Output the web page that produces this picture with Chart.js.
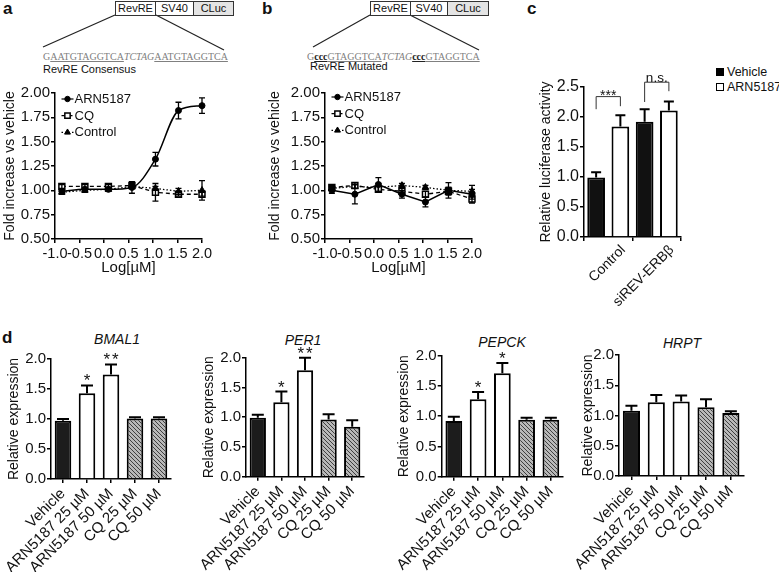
<!DOCTYPE html>
<html><head><meta charset="utf-8">
<script src="https://cdn.jsdelivr.net/npm/chart.js@4.4.0/dist/chart.umd.min.js"></script>
<style>
html,body{margin:0;padding:0;background:#fff;}
body{width:779px;height:572px;position:relative;overflow:hidden;font-family:'Liberation Sans',Arial,sans-serif;color:#111;}
canvas{position:absolute;}
.t{position:absolute;white-space:nowrap;line-height:1;}
.lt{font-weight:bold;font-size:17px;}
.cell{position:absolute;top:1px;height:15px;border:1px solid #333;box-sizing:border-box;font-size:11px;line-height:13px;text-align:center;}
.seq{position:absolute;white-space:nowrap;font-family:'Liberation Serif','DejaVu Serif',serif;font-size:10px;line-height:1;color:#808080;}
.seq u{text-decoration-thickness:1px;}
.seq b{color:#222;}
.gt{position:absolute;font-style:italic;font-size:14px;line-height:1;transform:translateX(-50%);white-space:nowrap;}
.sq{position:absolute;width:8px;height:8px;box-sizing:border-box;border:1.3px solid #000;}
</style></head>
<body>
<svg width="779" height="572" style="position:absolute;left:0;top:0">
  <g stroke="#222" stroke-width="1.2">
    <line x1="115" y1="15" x2="43" y2="47"/><line x1="156" y1="15" x2="224" y2="50"/>
    <line x1="370" y1="15" x2="313" y2="47"/><line x1="410" y1="15" x2="479" y2="50"/>
  </g>
</svg>
<div class="t lt" style="left:3px;top:0px">a</div>
<div class="t lt" style="left:262px;top:0px">b</div>
<div class="t lt" style="left:527px;top:0px">c</div>
<div class="t lt" style="left:2px;top:329px">d</div>

<div class="cell" style="left:115px;width:41px">RevRE</div>
<div class="cell" style="left:155px;width:39px">SV40</div>
<div class="cell" style="left:193px;width:41px;background:#e4e4e4">CLuc</div>
<div class="seq" style="left:43px;top:52px">G<u>AATGTAGGTCA</u><i>TCTAG</i><u>AATGTAGGTCA</u></div>
<div class="t" style="left:43px;top:64px;font-size:11px">RevRE Consensus</div>

<div class="cell" style="left:370px;width:41px">RevRE</div>
<div class="cell" style="left:410px;width:38px">SV40</div>
<div class="cell" style="left:447px;width:42px;background:#e4e4e4">CLuc</div>
<div class="seq" style="left:307px;top:52px">G<b><u>ccc</u></b><u>GTAGGTCA</u><i>TCTAG</i><b><u>ccc</u></b><u>GTAGGTCA</u></div>
<div class="t" style="left:310px;top:61px;font-size:11px">RevRE Mutated</div>

<div class="sq" style="left:716px;top:68px;background:#000"></div>
<div class="t" style="left:727px;top:66px;font-size:12.5px">Vehicle</div>
<div class="sq" style="left:716px;top:83px;background:#fff"></div>
<div class="t" style="left:727px;top:81px;font-size:12.5px">ARN5187</div>

<div class="gt" style="left:117px;top:332px">BMAL1</div>
<div class="gt" style="left:303px;top:333px">PER1</div>
<div class="gt" style="left:502px;top:335px">PEPCK</div>
<div class="gt" style="left:682px;top:336px">HRPT</div>

<script>
// ================= DATA =================
// Panels a & b : dose-response (log µM)
const logConc   = [-0.86, -0.39, 0.09, 0.57, 1.05, 1.52, 2.0];
const doseTicks = [-1.0, -0.5, 0.0, 0.5, 1.0, 1.5, 2.0];
const foldTicks = [0.50, 0.75, 1.00, 1.25, 1.50, 1.75, 2.00];
const seriesNames = ['ARN5187', 'CQ', 'Control'];

const aARN     = [0.99, 1.01, 1.01, 1.03, 1.32, 1.82, 1.87];
const aARNerr  = [0.02, 0.02, 0.02, 0.06, 0.07, 0.085, 0.08];
const aCQ      = [1.04, 1.04, 1.04, 1.05, 0.98, 0.96, 0.96];
const aCQerr   = [0.02, 0.02, 0.02, 0.02, 0.09, 0.02, 0.02];
const aCtrl    = [0.98, 1.00, 1.01, 1.04, 1.02, 0.99, 1.00];
const aCtrlErr = [0.02, 0.02, 0.02, 0.02, 0.02, 0.03, 0.10];

const bARN     = [1.00, 0.96, 1.06, 0.96, 0.88, 1.00, 0.96];
const bARNerr  = [0.03, 0.10, 0.07, 0.04, 0.05, 0.08, 0.05];
const bCQ      = [1.03, 1.05, 1.01, 0.99, 0.96, 0.99, 0.91];
const bCQerr   = [0.02, 0.03, 0.03, 0.03, 0.03, 0.04, 0.04];
const bCtrl    = [1.02, 1.04, 1.03, 1.05, 1.03, 1.00, 0.99];
const bCtrlErr = [0.02, 0.02, 0.04, 0.02, 0.02, 0.03, 0.06];

// Panel c : luciferase
const cGroups     = ['Control', 'siREV-ERBβ'];
const cNames      = ['Vehicle', 'ARN5187'];
const cVehicle    = [0.99, 1.92];
const cVehicleErr = [0.09, 0.21];
const cARN        = [1.84, 2.11];
const cARNerr     = [0.19, 0.15];
const cTicks      = [0.0, 0.5, 1.0, 1.5, 2.0, 2.5];
const cSig        = ['***', 'n.s.'];
const cSigLevel   = [2.34, 2.58];   // bracket bar level
const cSigLeft    = [2.13, 2.25];   // left leg end
const cSigRight   = [2.18, 2.43];   // right leg end

// Panel d : relative expression
const dCats     = ['Vehicle', 'ARN5187 25 µM', 'ARN5187 50 µM', 'CQ 25 µM', 'CQ 50 µM'];
const exprTicks = [0.0, 0.5, 1.0, 1.5, 2.0];
const bmal1      = [0.97, 1.43, 1.74, 1.01, 1.01];
const bmal1Err   = [0.03, 0.13, 0.17, 0.02, 0.02];
const bmal1Stars = ['', '*', '**', '', ''];
const per1       = [0.99, 1.25, 1.79, 0.96, 0.84];
const per1Err    = [0.05, 0.18, 0.21, 0.09, 0.11];
const per1Stars  = ['', '*', '**', '', ''];
const pepck      = [0.92, 1.28, 1.71, 0.94, 0.94];
const pepckErr   = [0.07, 0.12, 0.17, 0.035, 0.035];
const pepckStars = ['', '*', '*', '', ''];
const hrpt       = [1.08, 1.22, 1.23, 1.135, 1.04];
const hrptErr    = [0.08, 0.12, 0.10, 0.135, 0.03];
const hrptStars  = ['', '', '', '', ''];

// ================= RENDERING =================
const FONT = "'Liberation Sans', Arial, sans-serif";
Chart.defaults.font.family = FONT;
Chart.defaults.color = '#111';
Chart.defaults.animation = false;

function makeCanvas(L, T, W, H) {
  const c = document.createElement('canvas');
  c.width = W; c.height = H;
  c.style.left = L + 'px'; c.style.top = T + 'px';
  document.body.appendChild(c);
  return c;
}
// canvas box [L,T,W,H] and plot area [l,t,r,b] in page pixels
function frame(cv, area) {
  return {
    canvas: makeCanvas(cv[0], cv[1], cv[2], cv[3]),
    padding: {top: area[1] - cv[1], right: cv[0] + cv[2] - area[2], bottom: 0, left: 0},
    yw: area[0] - cv[0],
    xh: cv[1] + cv[3] - area[3]
  };
}
function axisLook() {
  return {
    grid: {display: true, drawOnChartArea: false, drawTicks: true, tickLength: 4, color: '#000', lineWidth: 1.5},
    border: {display: true, color: '#000', width: 1.5}
  };
}
function hatchPattern() {
  const c = document.createElement('canvas'); c.width = 4; c.height = 4;
  const g = c.getContext('2d');
  g.fillStyle = '#b8b8b8'; g.fillRect(0, 0, 4, 4);
  g.strokeStyle = '#404040'; g.lineWidth = 1;
  g.beginPath();
  g.moveTo(0, 0); g.lineTo(4, 4);
  g.moveTo(-1, 3); g.lineTo(1, 5);
  g.moveTo(3, -1); g.lineTo(5, 1);
  g.stroke();
  return g.createPattern(c, 'repeat');
}

const errorBars = {
  id: 'errorBars',
  afterDatasetsDraw(chart, args, opts) {
    const ctx = chart.ctx, ys = chart.scales.y;
    chart.data.datasets.forEach((ds, di) => {
      if (!ds.errors) return;
      const meta = chart.getDatasetMeta(di);
      ctx.save();
      ctx.strokeStyle = '#000'; ctx.lineWidth = opts.lineWidth; ctx.setLineDash([]);
      meta.data.forEach((el, i) => {
        const raw = ds.data[i];
        const v = (typeof raw === 'object') ? raw.y : raw;
        const e = ds.errors[i];
        const x = el.x, half = opts.cap / 2;
        const yTop = ys.getPixelForValue(v + e);
        const yBot = ys.getPixelForValue(opts.upOnly ? v : v - e);
        ctx.beginPath();
        ctx.moveTo(x, yBot); ctx.lineTo(x, yTop);
        ctx.moveTo(x - half, yTop); ctx.lineTo(x + half, yTop);
        if (!opts.upOnly) { ctx.moveTo(x - half, yBot); ctx.lineTo(x + half, yBot); }
        ctx.stroke();
        if (ds.stars && ds.stars[i]) {
          const n = ds.stars[i].length;
          ctx.fillStyle = '#111'; ctx.font = opts.starFont;
          ctx.textAlign = 'center'; ctx.textBaseline = 'alphabetic';
          for (let k = 0; k < n; k++) ctx.fillText('*', x + (k - (n - 1) / 2) * opts.starGap, yTop + opts.starShift);
        }
      });
      ctx.restore();
    });
  }
};

const lineLegend = {
  id: 'lineLegend',
  afterDraw(chart, args, opts) {
    if (!opts.show) return;
    const ctx = chart.ctx, ca = chart.chartArea;
    chart.data.datasets.forEach((ds, i) => {
      const y = ca.top + opts.top + i * opts.gap;
      const x0 = ca.left + opts.left;
      ctx.save();
      ctx.strokeStyle = '#000'; ctx.lineWidth = 1.2;
      ctx.setLineDash(ds.borderDash || []);
      ctx.beginPath(); ctx.moveTo(x0, y); ctx.lineTo(x0 + 12, y); ctx.stroke();
      ctx.setLineDash([]);
      ctx.fillStyle = ds.pointBackgroundColor; ctx.lineWidth = ds.pointBorderWidth;
      Chart.helpers.drawPoint(ctx, {pointStyle: ds.pointStyle, radius: ds.pointRadius * 0.9, borderWidth: ds.pointBorderWidth, rotation: 0}, x0 + 6, y);
      ctx.fillStyle = '#111'; ctx.font = opts.font;
      ctx.textAlign = 'left'; ctx.textBaseline = 'middle';
      ctx.fillText(ds.label, x0 + 13, y + 0.5);
      ctx.restore();
    });
  }
};

const brackets = {
  id: 'brackets',
  afterDatasetsDraw(chart, args, opts) {
    if (!opts.labels) return;
    const ctx = chart.ctx, ys = chart.scales.y;
    const m0 = chart.getDatasetMeta(0), m1 = chart.getDatasetMeta(1);
    ctx.save();
    ctx.strokeStyle = '#333'; ctx.lineWidth = 1;
    opts.labels.forEach((txt, g) => {
      const x1 = m0.data[g].x, x2 = m1.data[g].x;
      const yl = ys.getPixelForValue(opts.level[g]);
      ctx.beginPath();
      ctx.moveTo(x1, ys.getPixelForValue(opts.left[g]));
      ctx.lineTo(x1, yl); ctx.lineTo(x2, yl);
      ctx.lineTo(x2, ys.getPixelForValue(opts.right[g]));
      ctx.stroke();
      ctx.fillStyle = '#111'; ctx.textAlign = 'center'; ctx.textBaseline = 'alphabetic';
      if (txt.indexOf('*') >= 0) { ctx.font = '14px ' + FONT; ctx.fillText(txt, (x1 + x2) / 2, yl + 3); }
      else { ctx.font = '13.5px ' + FONT; ctx.fillText(txt, (x1 + x2) / 2, yl - 0.5); }
    });
    ctx.restore();
  }
};
Chart.register(errorBars, lineLegend, brackets);

// ---------- line panels ----------
function doseChart(cv, area, ser, errs, smoothFirst, legendTop, titlePad) {
  const fr = frame(cv, area);
  const styles = [
    {pointStyle: 'circle', pointRadius: 3, pointBackgroundColor: '#000', pointBorderWidth: 1, borderDash: [], borderWidth: 1.5},
    {pointStyle: 'rect', pointRadius: 4.2, pointBackgroundColor: '#fff', pointBorderWidth: 1.5, borderDash: [4, 3], borderWidth: 1.3},
    {pointStyle: 'triangle', pointRadius: 3.8, pointBackgroundColor: '#000', pointBorderWidth: 1, borderDash: [1.5, 2], borderWidth: 1.3}
  ];
  const datasets = ser.map((vals, k) => Object.assign({
    label: seriesNames[k],
    data: logConc.map((x, i) => ({x: x, y: vals[i]})),
    errors: errs[k],
    borderColor: '#000', pointBorderColor: '#000',
    cubicInterpolationMode: (k === 0 && smoothFirst) ? 'monotone' : 'default',
    tension: 0, clip: false
  }, styles[k]));
  const xs = Object.assign(axisLook(), {
    type: 'linear', min: -1, max: 2,
    afterBuildTicks: s => { s.ticks = doseTicks.map(v => ({value: v})); },
    afterFit: s => { s.height = fr.xh; },
    ticks: {font: {size: 14.5}, color: '#111', padding: 2, autoSkip: false, maxRotation: 0, callback: v => v.toFixed(1)},
    title: {display: true, text: 'Log[µM]', font: {size: 15}, color: '#111', padding: {top: 0, bottom: 4}}
  });
  const ysc = Object.assign(axisLook(), {
    type: 'linear', min: 0.5, max: 2.0,
    afterBuildTicks: s => { s.ticks = foldTicks.map(v => ({value: v})); },
    afterFit: s => { s.width = fr.yw; },
    ticks: {font: {size: 15}, color: '#111', padding: 1, callback: v => v.toFixed(2)},
    title: {display: true, text: 'Fold increase vs vehicle', font: {size: 14}, color: '#111', padding: {top: titlePad, bottom: 0}}
  });
  new Chart(fr.canvas, {
    type: 'line',
    data: {datasets},
    options: {
      responsive: false, animation: false,
      layout: {padding: fr.padding, autoPadding: false},
      scales: {x: xs, y: ysc},
      plugins: {
        legend: {display: false}, tooltip: {enabled: false},
        errorBars: {cap: 6, lineWidth: 1.3, upOnly: false},
        lineLegend: {show: true, left: 6.5, top: legendTop, gap: 16.7, font: '13px ' + FONT}
      }
    }
  });
}
doseChart([0, 80, 218, 201], [55, 93, 202, 239], [aARN, aCQ, aCtrl], [aARNerr, aCQerr, aCtrlErr], true, 6, 1.3);
doseChart([263, 80, 222, 201], [325, 93, 472, 239], [bARN, bCQ, bCtrl], [bARNerr, bCQerr, bCtrlErr], false, 4, 3.6);

// ---------- panel c ----------
(function () {
  const fr = frame([530, 60, 170, 268], [584, 87, 681, 237]);
  new Chart(fr.canvas, {
    type: 'bar',
    data: {
      labels: cGroups,
      datasets: [
        {label: cNames[0], data: cVehicle, errors: cVehicleErr, backgroundColor: '#111', borderColor: '#000', borderWidth: 2},
        {label: cNames[1], data: cARN, errors: cARNerr, backgroundColor: '#fff', borderColor: '#000', borderWidth: 2}
      ]
    },
    options: {
      responsive: false, animation: false,
      layout: {padding: fr.padding, autoPadding: false},
      datasets: {bar: {barPercentage: 0.73, categoryPercentage: 1.0}},
      scales: {
        x: Object.assign(axisLook(), {
          afterFit: s => { s.height = fr.xh; },
          ticks: {font: {size: 14}, color: '#111', padding: 1, autoSkip: false, minRotation: 45, maxRotation: 45, labelOffset: 15}
        }),
        y: Object.assign(axisLook(), {
          min: 0, max: 2.5,
          afterBuildTicks: s => { s.ticks = cTicks.map(v => ({value: v})); },
          afterFit: s => { s.width = fr.yw; },
          ticks: {font: {size: 16}, color: '#111', padding: 1, callback: v => v.toFixed(1)},
          title: {display: true, text: 'Relative luciferase activity', font: {size: 14}, color: '#111', padding: {top: 8, bottom: 0}}
        })
      },
      plugins: {
        legend: {display: false}, tooltip: {enabled: false},
        errorBars: {cap: 10, lineWidth: 2, upOnly: true},
        brackets: {labels: cSig, level: cSigLevel, left: cSigLeft, right: cSigRight}
      }
    }
  });
})();

// ---------- panel d ----------
const HATCH = hatchPattern();
function exprChart(cv, area, vals, errs, stars, titlePad) {
  const fr = frame(cv, area);
  new Chart(fr.canvas, {
    type: 'bar',
    data: {
      labels: dCats,
      datasets: [{
        data: vals, errors: errs, stars: stars,
        backgroundColor: ['#1c1c1c', '#fff', '#fff', HATCH, HATCH],
        borderColor: '#000', borderWidth: 2
      }]
    },
    options: {
      responsive: false, animation: false,
      layout: {padding: fr.padding, autoPadding: false},
      datasets: {bar: {barPercentage: 0.69, categoryPercentage: 1.0}},
      scales: {
        x: Object.assign(axisLook(), {
          grid: {display: true, drawOnChartArea: false, drawTicks: true, tickLength: 4, color: '#000', lineWidth: 1.5, offset: false},
          afterFit: s => { s.height = fr.xh; },
          ticks: {font: {size: 15}, color: '#111', padding: 2, autoSkip: false, minRotation: 45, maxRotation: 45}
        }),
        y: Object.assign(axisLook(), {
          min: 0, max: 2,
          afterBuildTicks: s => { s.ticks = exprTicks.map(v => ({value: v})); },
          afterFit: s => { s.width = fr.yw; },
          ticks: {font: {size: 15}, color: '#111', padding: 1, callback: v => v.toFixed(1)},
          title: {display: true, text: 'Relative expression', font: {size: 14}, color: '#111', padding: {top: titlePad, bottom: 0}}
        })
      },
      plugins: {
        legend: {display: false}, tooltip: {enabled: false},
        errorBars: {cap: 12, lineWidth: 2, upOnly: true, starFont: '17px ' + FONT, starGap: 8.5, starShift: 1}
      }
    }
  });
}
exprChart([0, 330, 180, 242],   [51, 359, 171, 479],       bmal1, bmal1Err, bmal1Stars, 5.8);
exprChart([195, 330, 180, 242], [246, 357.7, 364, 476.7], per1, per1Err, per1Stars, 6.1);
exprChart([390, 330, 180, 242], [441.7, 355.7, 563, 476.7], pepck, pepckErr, pepckStars, 5.6);
exprChart([575, 330, 204, 242], [619, 355, 743.3, 476],    hrpt, hrptErr, hrptStars, 4.9);
</script>
</body></html>
